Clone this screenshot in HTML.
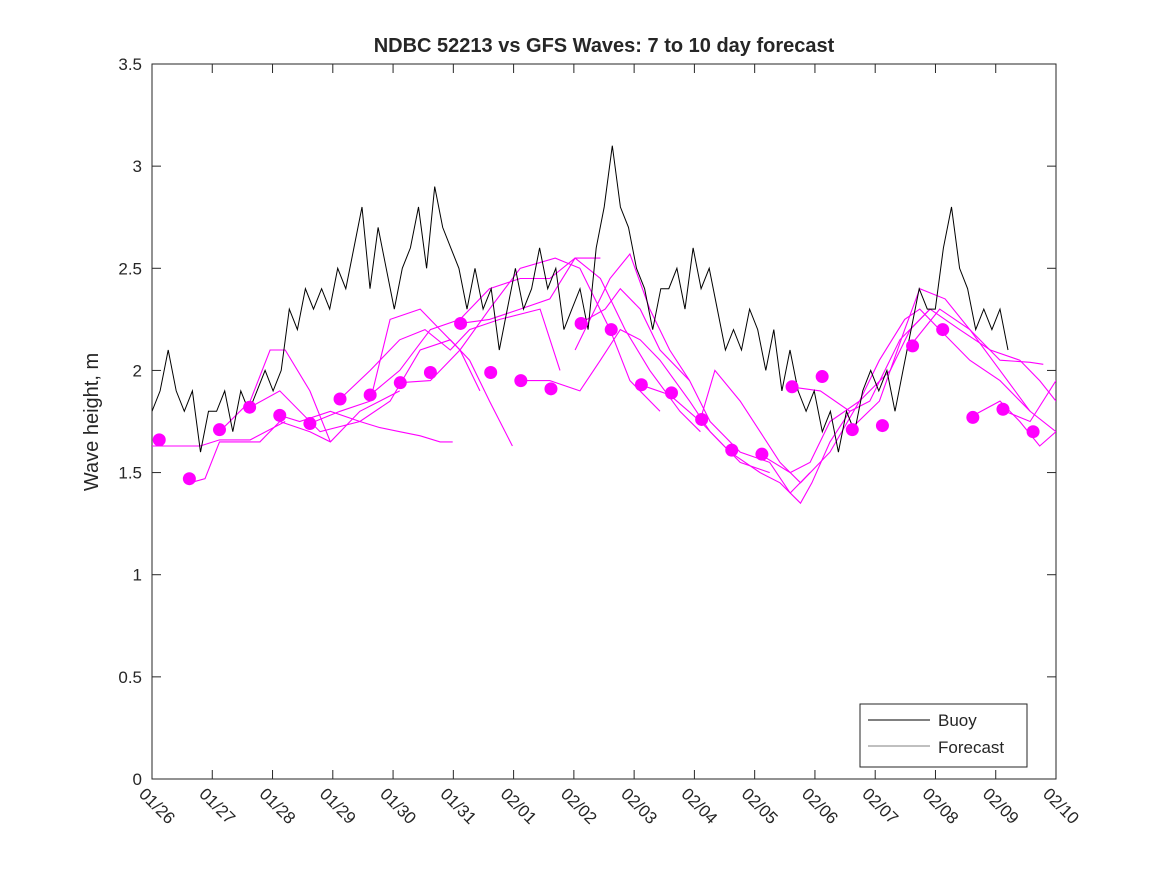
<!DOCTYPE html>
<html><head><meta charset="utf-8"><style>
body{margin:0;background:#fff;}
svg text{font-family:"Liberation Sans",sans-serif;fill:#262626;}
</style></head><body>
<svg id="chart" width="1167" height="875" xmlns="http://www.w3.org/2000/svg">
<rect width="1167" height="875" fill="#fff"/>
<rect x="152" y="64" width="904" height="715" fill="#fff" stroke="#262626" stroke-width="1"/>
<text x="604" y="52" text-anchor="middle" font-size="20" font-weight="bold" fill="#000">NDBC 52213 vs GFS Waves: 7 to 10 day forecast</text>
<text transform="translate(98,422) rotate(-90)" text-anchor="middle" font-size="20">Wave height, m</text>
<g id="axes"></g>
<g id="marks"></g>
<g>
<rect x="860" y="704" width="167" height="63" fill="#fff" stroke="#262626"/>
<line x1="868" y1="720" x2="930" y2="720" stroke="#000" stroke-width="1"/>
<text x="938" y="726" font-size="17">Buoy</text>
<line x1="868" y1="746" x2="930" y2="746" stroke="#000" stroke-width="0.5"/>
<text x="938" y="753" font-size="17">Forecast</text>
</g>
</svg>
<script>
const xTickLabels=["01/26","01/27","01/28","01/29","01/30","01/31","02/01","02/02","02/03","02/04","02/05","02/06","02/07","02/08","02/09","02/10"];
const yTicks=[0,0.5,1,1.5,2,2.5,3,3.5];
const yTickLabels=["0","0.5","1","1.5","2","2.5","3","3.5"];
const buoyStep=0.134;
const buoyValues=[1.8,1.9,2.1,1.9,1.8,1.9,1.6,1.8, 1.8,1.9,1.7,1.9,1.8,1.9,2.0,1.9, 2.0,2.3,2.2,2.4,2.3,2.4,2.3,2.5, 2.4,2.6,2.8,2.4,2.7,2.5,2.3,2.5, 2.6,2.8,2.5,2.9,2.7,2.6,2.5,2.3, 2.5,2.3,2.4,2.1,2.3,2.5,2.3,2.4, 2.6,2.4,2.5,2.2,2.3,2.4,2.2,2.6, 2.8,3.1,2.8,2.7,2.5,2.4,2.2,2.4, 2.4,2.5,2.3,2.6,2.4,2.5,2.3,2.1, 2.2,2.1,2.3,2.2,2.0,2.2,1.9,2.1, 1.9,1.8,1.9,1.7,1.8,1.6,1.8,1.7, 1.9,2.0,1.9,2.0,1.8,2.0,2.2,2.4, 2.3,2.3,2.6,2.8,2.5,2.4,2.2,2.3, 2.2,2.3,2.1];
const dotDays=[0.12,0.62,1.12,1.62,2.12,2.62,3.12,3.62,4.12,4.62,5.12,5.62,6.12,6.62,7.12,7.62,8.12,8.62,9.12,9.62,10.12,10.62,11.12,11.62,12.12,12.62,13.12,13.62,14.12,14.62];
const dotValues=[1.66,1.47,1.71,1.82,1.78,1.74,1.86,1.88,1.94,1.99,2.23,1.99,1.95,1.91,2.23,2.20,1.93,1.89,1.76,1.61,1.59,1.92,1.97,1.71,1.73,2.12,2.20,1.77,1.81,1.70];
const fcDays=[
[0,0.80,1.12,1.63,2.21],
[0.63,0.88,1.12,1.79,2.12,2.62,2.96,3.45,4.11],
[1.12,1.63,1.96,2.21,2.62,2.96],
[1.63,2.12,2.79,3.45,3.95,4.45,4.95,5.27,5.60,5.98],
[2.12,2.45,2.96,3.45,3.78,4.11,4.45,4.78,4.99],
[2.62,3.12,3.62,3.95,4.45,4.78,5.11,5.44],
[3.12,3.62,4.11,4.53,4.95,5.27,5.77,6.44,6.77],
[3.62,4.11,4.62,5.11,5.60,6.11,6.60,7.02,7.44],
[4.11,4.62,5.11,5.60,6.11,6.69,7.10,7.60,7.93,8.43],
[5.11,5.60,6.11,6.60,7.02,7.44,7.85,8.26,8.76,9.10],
[6.11,6.60,7.10,7.44,7.77,8.10,8.43,8.92,9.26,9.76,10.25],
[7.10,7.52,7.77,8.10,8.43,8.92,9.26,9.76,10.25,10.59,10.92],
[7.02,7.60,7.93,8.26,8.59,8.92],
[8.10,8.59,9.10,9.59,10.09,10.42,10.76,10.95,11.25,11.58],
[9.10,9.34,9.76,10.09,10.42,10.76,11.25,11.74,12.25,12.58,12.91],
[10.09,10.59,10.92,11.25,11.74,12.07,12.49,12.74,13.07,13.57,14.07,14.57],
[10.59,11.09,11.58,11.91,12.41,12.91,13.40,13.91,14.40,14.73,15],
[11.58,12.07,12.49,12.74,13.16,13.57,14.07,14.57,15],
[12.58,13.07,13.57,14.07,14.57,14.79],
[13.57,14.07,14.40,14.73,15],
[14.07,14.57,15]];
const fcValues=[
[1.63,1.63,1.66,1.66,1.75],
[1.45,1.47,1.65,1.65,1.75,1.7,1.65,1.8,1.9],
[1.7,1.85,2.1,2.1,1.9,1.65],
[1.82,1.9,1.7,1.75,1.85,2.1,2.15,2.05,1.85,1.63],
[1.78,1.75,1.8,1.75,1.72,1.7,1.68,1.65,1.65],
[1.74,1.8,1.85,2.25,2.3,2.2,2.1,1.9],
[1.86,2.0,2.15,2.2,2.1,2.2,2.25,2.3,2.0],
[1.88,2.0,2.2,2.25,2.4,2.45,2.45,2.55,2.55],
[1.94,1.95,2.1,2.3,2.5,2.55,2.5,2.2,1.95,1.8],
[2.23,2.25,2.3,2.35,2.55,2.45,2.2,2.0,1.8,1.7],
[1.95,1.95,1.9,2.05,2.2,2.15,2.05,1.85,1.7,1.55,1.5],
[2.23,2.3,2.4,2.3,2.1,1.95,1.75,1.6,1.55,1.4,1.5],
[2.1,2.45,2.57,2.3,2.1,1.95],
[1.93,1.88,1.75,1.6,1.5,1.45,1.35,1.45,1.65,1.8],
[1.76,2.0,1.85,1.7,1.55,1.45,1.6,1.85,2.0,2.2,2.3],
[1.59,1.5,1.55,1.75,1.85,2.05,2.25,2.3,2.2,2.05,1.95,1.8],
[1.92,1.9,1.8,1.85,2.15,2.3,2.2,2.1,2.05,1.95,1.85],
[1.71,1.85,2.2,2.4,2.35,2.2,2.0,1.8,1.7],
[2.12,2.3,2.2,2.05,2.04,2.03],
[1.77,1.85,1.75,1.63,1.7],
[1.81,1.75,1.95]];
const NS="http://www.w3.org/2000/svg";
const X0=152,X1=1056,Y0=779,Y1=64,NDAYS=15;
function xS(d){return X0+d*(X1-X0)/NDAYS;}
function yS(v){return Y0-v*(Y0-Y1)/3.5;}
function mk(t,a,p){const e=document.createElementNS(NS,t);for(const k in a)e.setAttribute(k,a[k]);p.appendChild(e);return e;}
const axes=document.getElementById('axes'),marks=document.getElementById('marks');
const clip=mk('clipPath',{id:'pc'},document.getElementById('chart'));
mk('rect',{x:X0,y:Y1,width:X1-X0,height:Y0-Y1},clip);
marks.setAttribute('clip-path','url(#pc)');
xTickLabels.forEach((l,i)=>{const x=xS(i);
 const t1=mk('line',{x1:x,y1:Y0,x2:x,y2:Y0-9,stroke:'#262626'},axes);
 
 
 const t2=mk('line',{x1:x,y1:Y1,x2:x,y2:Y1+9,stroke:'#262626'},axes);
 
 
 const tx=mk('text',{transform:`translate(${x-14},${Y0+16}) rotate(45)`,'font-size':17},axes);
 tx.textContent=l;
 
 
});
yTicks.forEach((v,i)=>{const y=yS(v);
 const t1=mk('line',{x1:X0,y1:y,x2:X0+9,y2:y,stroke:'#262626'},axes);
 
 
 const t2=mk('line',{x1:X1,y1:y,x2:X1-9,y2:y,stroke:'#262626'},axes);
 
 
 const tx=mk('text',{x:X0-10,y:y+6,'text-anchor':'end','font-size':17},axes);
 tx.textContent=yTickLabels[i];
 
 
});
fcDays.forEach((ds,i)=>{
 const pts=ds.map((d,j)=>xS(d).toFixed(1)+','+yS(fcValues[i][j]).toFixed(1)).join(' ');
 const pl=mk('polyline',{points:pts,fill:'none',stroke:'#ff00ff','stroke-width':1.1},marks);
 
 
});
let bp='';
buoyValues.forEach((v,i)=>{const x=xS(i*buoyStep),y=yS(v);bp+=(i?' L':'M')+x.toFixed(1)+','+y.toFixed(1);});
const b=mk('path',{d:bp,fill:'none',stroke:'#000','stroke-width':1},marks);


dotDays.forEach((d,i)=>{
 const c=mk('circle',{cx:xS(d),cy:yS(dotValues[i]),r:6.5,fill:'#ff00ff'},marks);
 
 
});
</script>
</body></html>
